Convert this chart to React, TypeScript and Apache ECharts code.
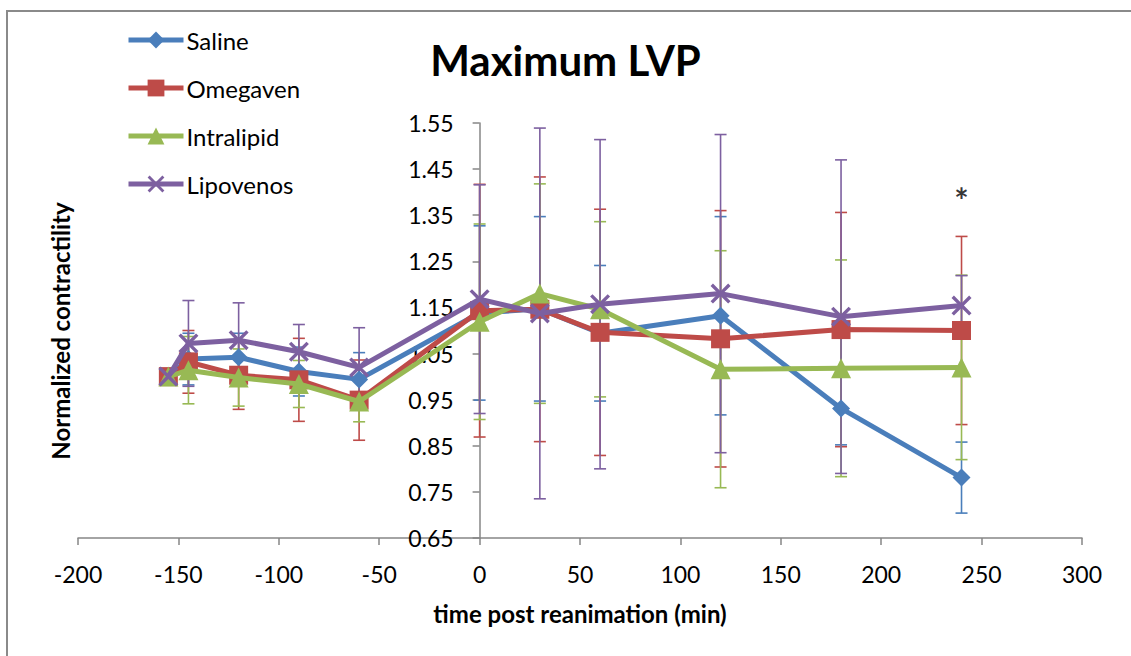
import React, { useEffect, useRef } from "react";
import * as echarts from "echarts";

const times = [-155, -145, -120, -90, -60, 0, 30, 60, 120, 180, 240];
const seriesNames = ["Saline", "Omegaven", "Intralipid", "Lipovenos"];
const salineValues = [1.0, 1.038, 1.042, 1.011, 0.994, 1.138, 1.147, 1.094, 1.132, 0.931, 0.781];
const salineErrors = [0, 0.056, 0.052, 0.053, 0.058, 0.189, 0.2, 0.147, 0.215, 0.079, 0.077];
const omegavenValues = [1.0, 1.032, 1.003, 0.993, 0.949, 1.143, 1.146, 1.096, 1.082, 1.102, 1.1];
const omegavenErrors = [0, 0.068, 0.074, 0.09, 0.087, 0.274, 0.287, 0.267, 0.278, 0.254, 0.204];
const intralipidValues = [1.0, 1.014, 0.998, 0.984, 0.946, 1.119, 1.18, 1.146, 1.016, 1.018, 1.02];
const intralipidErrors = [0, 0.073, 0.062, 0.051, 0.044, 0.212, 0.238, 0.19, 0.257, 0.235, 0.2];
const lipovenosValues = [1.0, 1.072, 1.079, 1.054, 1.02, 1.168, 1.137, 1.157, 1.18, 1.13, 1.154];
const lipovenosErrors = [0, 0.093, 0.081, 0.059, 0.086, 0.248, 0.402, 0.357, 0.345, 0.34, 0.065];
const annotation = { time: 240, value: 1.385, text: "*" };
const xTicks = { min: -200, max: 300, interval: 50 };
const yTicks = { min: 0.65, max: 1.55, interval: 0.1 };

const FONT = "Lato";
const colors = ["#4A7EBB", "#BE4B48", "#98B954", "#7D60A0"];
const symbols = [
  "diamond",
  "rect",
  "triangle",
  "path://M0,1.2 L1.2,0 L5,3.8 L8.8,0 L10,1.2 L6.2,5 L10,8.8 L8.8,10 L5,6.2 L1.2,10 L0,8.8 L3.8,5 Z",
];
const symbolSizes = [18, 19, 20, 20];

const W = 1131;
const H = 656;
const GRID = { left: 78, right: 49, top: 123, bottom: 118 };

export default function App() {
  const ref = useRef<HTMLDivElement>(null);
  useEffect(() => {
    if (!ref.current) return;
    const chart = echarts.init(ref.current, null, { renderer: "svg" });
    const values = [salineValues, omegavenValues, intralipidValues, lipovenosValues];
    const errors = [salineErrors, omegavenErrors, intralipidErrors, lipovenosErrors];

    // place y axis at x = 0 of the x axis
    const gridWidth = W - GRID.left - GRID.right;
    const yAxisOffset = -gridWidth * (0 - xTicks.min) / (xTicks.max - xTicks.min);

    const errSeries = seriesNames.map((name, si) => ({
      type: "custom",
      name: name + " error",
      z: 1,
      silent: true,
      data: times.map((t, i) => [t, values[si][i] - errors[si][i], values[si][i] + errors[si][i]]),
      renderItem: (params: any, api: any) => {
        const lo = api.coord([api.value(0), api.value(1)]);
        const hi = api.coord([api.value(0), api.value(2)]);
        const cap = 6;
        const style = { stroke: colors[si], lineWidth: 1.6 };
        return {
          type: "group",
          children: [
            { type: "line", shape: { x1: lo[0], y1: lo[1], x2: hi[0], y2: hi[1] }, style },
            { type: "line", shape: { x1: lo[0] - cap, y1: lo[1], x2: lo[0] + cap, y2: lo[1] }, style },
            { type: "line", shape: { x1: hi[0] - cap, y1: hi[1], x2: hi[0] + cap, y2: hi[1] }, style },
          ],
        };
      },
    }));

    const lineSeries = seriesNames.map((name, si) => ({
      type: "line",
      name,
      z: 3 + si,
      data: times.map((t, i) => [t, values[si][i]]),
      symbol: symbols[si],
      symbolSize: symbolSizes[si],
      showAllSymbol: true,
      lineStyle: { color: colors[si], width: 5 },
      itemStyle: { color: colors[si], borderWidth: 0 },
      emphasis: { disabled: true },
    }));

    const annotSeries = {
      type: "scatter",
      name: "annotation",
      z: 10,
      silent: true,
      symbol: "circle",
      symbolSize: 1,
      itemStyle: { color: "rgba(0,0,0,0)" },
      data: [[annotation.time, annotation.value]],
      label: {
        show: true,
        position: "inside",
        formatter: annotation.text,
        color: "#000",
        fontSize: 34,
        fontWeight: "bold",
        fontFamily: FONT,
      },
    };

    chart.setOption({
      animation: false,
      backgroundColor: "#fff",
      title: {
        text: "Maximum LVP",
        left: "center",
        top: 34,
        textStyle: { fontFamily: FONT, fontWeight: "bold", fontSize: 42, color: "#000" },
      },
      legend: {
        data: seriesNames,
        orient: "vertical",
        left: 126,
        top: 28,
        padding: 0,
        itemWidth: 55,
        itemHeight: 21,
        itemGap: 24,
        lineStyle: { width: 5 },
        textStyle: { fontFamily: FONT, fontSize: 24, color: "#000", lineHeight: 24, padding: [0, 0, 0, -2] },
      },
      grid: { ...GRID, containLabel: false, outerBoundsMode: "none" },
      xAxis: {
        type: "value",
        min: xTicks.min,
        max: xTicks.max,
        interval: xTicks.interval,
        name: "time post reanimation (min)",
        nameLocation: "middle",
        nameGap: 63,
        nameTextStyle: { fontFamily: FONT, fontWeight: "bold", fontSize: 24, color: "#000" },
        axisLine: { onZero: false, lineStyle: { color: "#868686", width: 1.5 } },
        axisTick: { show: true, length: 7, lineStyle: { color: "#868686", width: 1.5 } },
        axisLabel: { fontFamily: FONT, fontSize: 23, color: "#000", margin: 24 },
        splitLine: { show: false },
      },
      yAxis: {
        type: "value",
        min: yTicks.min,
        max: yTicks.max,
        interval: yTicks.interval,
        offset: yAxisOffset,
        axisLine: { show: true, onZero: false, lineStyle: { color: "#868686", width: 1.5 } },
        axisTick: { show: true, length: 7, lineStyle: { color: "#868686", width: 1.5 } },
        axisLabel: {
          fontFamily: FONT,
          fontSize: 23,
          color: "#000",
          margin: 26,
          formatter: (v: number) => v.toFixed(2),
        },
        splitLine: { show: false },
      },
      graphic: [
        {
          type: "rect",
          shape: { x: 7, y: 11, width: 1300, height: 800 },
          style: { fill: "none", stroke: "#8a8a8a", lineWidth: 2 },
          silent: true,
        },
        {
          type: "text",
          x: 60,
          y: 331,
          rotation: Math.PI / 2,
          style: {
            text: "Normalized contractility",
            fontFamily: FONT,
            fontWeight: "bold",
            fontSize: 24,
            fill: "#000",
            align: "center",
            verticalAlign: "middle",
          },
          silent: true,
        },
      ],
      series: [...errSeries, ...lineSeries, annotSeries],
    });
    return () => chart.dispose();
  }, []);
  return (
    <div
      ref={ref}
      style={{ position: "fixed", left: 0, top: 0, width: W, height: H, background: "#fff" }}
    />
  );
}
